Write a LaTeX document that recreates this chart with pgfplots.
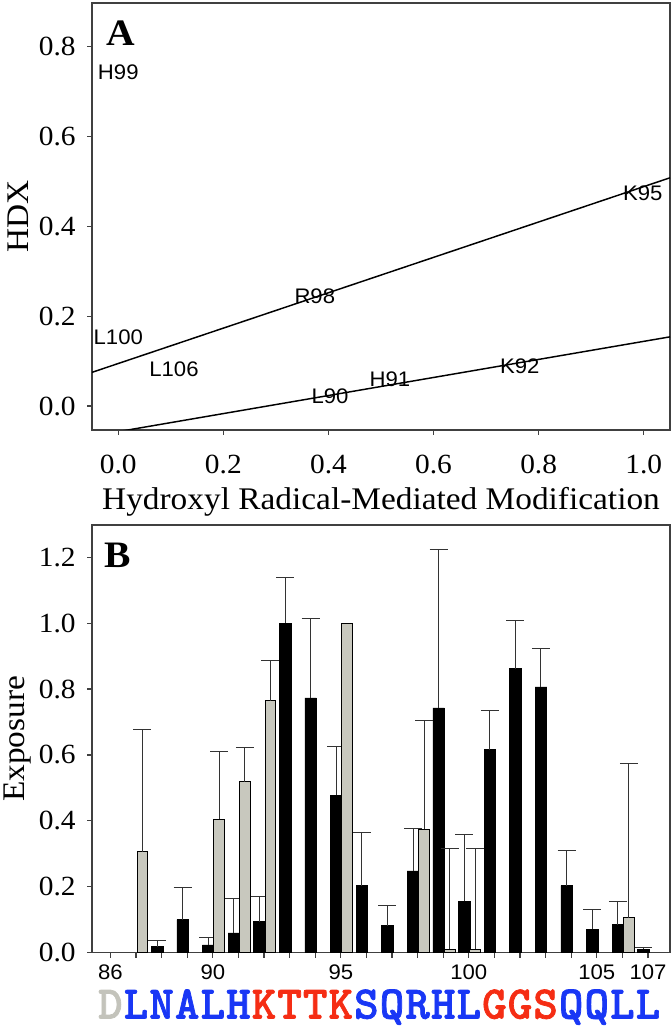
\documentclass[border=0pt]{standalone}
\usepackage{fontspec}
\setmainfont{Liberation Serif}[FakeStretch=1.06]
\newfontfamily\arialf{Liberation Sans}[FakeStretch=1.05]
\newfontfamily\courf{lmmonolt10-bold.otf}[FakeBold=1.5]
\usepackage{pgfplots}
\usepackage{pgfplotstable}
\pgfplotsset{compat=1.18}

\definecolor{barg}{RGB}{200,200,190}
\definecolor{seqgray}{RGB}{195,195,187}
\definecolor{seqblue}{RGB}{25,55,245}
\definecolor{seqred}{RGB}{245,45,20}

\newcommand\tickfont{\rmfamily\fontsize{20.8}{24}\selectfont}
\newcommand\labfont{\rmfamily\fontsize{23.6}{26}\selectfont}
\newcommand\sansfont{\arialf\fontsize{15.8}{18}\selectfont}
\newcommand\seqfont{\courf\fontsize{35}{36}\selectfont}

\pgfplotstableread{
x y label
0.000 0.743 H99
0.000 0.153 L100
0.106 0.0815 L106
0.374 0.245 R98
0.998 0.474 K95
0.403 0.021 L90
0.517 0.060 H91
0.764 0.0896 K92
}\labeltab

\pgfplotstableread{
res val err
88 0.018 0.018
89 0.100 0.096
90 0.023 0.024
91 0.060 0.103
92 0.094 0.076
93 1.000 0.138
94 0.773 0.241
95 0.477 0.150
96 0.203 0.160
97 0.082 0.061
98 0.248 0.129
99 0.743 0.482
100 0.155 0.203
101 0.616 0.120
102 0.862 0.145
103 0.807 0.117
104 0.203 0.106
105 0.070 0.062
106 0.085 0.071
107 0.010 0.006
}\blacktab

\pgfplotstableread{
res val err
87 0.306 0.371
90 0.404 0.206
91 0.519 0.105
92 0.765 0.121
98 0.374 0.330
99 0.010 0.306
100 0.010 0.306
106 0.106 0.468
}\graytab

\pgfplotstableread{
res val
95 1.000
}\graytabb

\pgfplotsset{
  common/.style={
    scale only axis, anchor=south west, width=433.5pt,
    axis line style={draw=black!75, line width=0.9pt},
    tick style={draw=black!75, line width=0.9pt},
    tick align=outside, major tick length=3.75pt, tick pos=left,
    /pgf/number format/assume math mode=true,
    tick label style={font=\tickfont},
    yticklabel style={/pgf/number format/fixed, /pgf/number format/fixed zerofill, /pgf/number format/precision=1, xshift=-5pt},
    every axis y label/.style={at={(axis description cs:-0.128,0.5)}, rotate=90, anchor=center, inner sep=0pt, font=\labfont},
  }
}

\begin{document}
\begin{tikzpicture}
\path[use as bounding box] (0,0) rectangle (503.25pt,769.5pt);
\begin{axis}[common,
  at={(69pt,447pt)}, height=320.25pt,
  xmin=-0.05, xmax=1.05, ymin=-0.0533, ymax=0.897,
  xtick={0,0.2,0.4,0.6,0.8,1.0}, ytick={0,0.2,0.4,0.6,0.8},
  xticklabel style={/pgf/number format/fixed, /pgf/number format/fixed zerofill, /pgf/number format/precision=1, yshift=-11.85pt},
  ylabel={HDX},
  xlabel={Hydroxyl Radical-Mediated Modification},
  every axis x label/.style={at={(axis description cs:0.5,0)}, anchor=base, yshift=-60pt, font=\labfont},
]
\addplot[black, line width=1.1pt] coordinates {(-0.05,0.075) (1.05,0.508)};
\addplot[black, line width=1.1pt] coordinates {(-0.05,-0.067) (1.05,0.154)};
\addplot[draw=none, mark=none, nodes near coords, point meta=explicit symbolic,
  every node near coord/.append style={anchor=center, font=\sansfont, inner sep=0pt}]
  table[x=x, y=y, meta=label] {\labeltab};
\node[font=\bfseries\fontsize{28}{28}\selectfont] at (axis description cs:0.050,0.930) {A};
\end{axis}

\begin{axis}[common,
  at={(69pt,55.1pt)}, height=320.6pt,
  xmin=85.28, xmax=107.86, ymin=0, ymax=1.298,
  xtick={86,...,107},
  xticklabels={86,,,,90,,,,,95,,,,,100,,,,,105,,107},
  xticklabel style={font=\sansfont, inner sep=0.5pt, yshift=-5pt},
  ytick={0,0.2,0.4,0.6,0.8,1.0,1.2},
  ylabel={Exposure},
  extra x ticks={86,...,107},
  extra x tick labels={\textcolor{seqgray}{D},\textcolor{seqblue}{L},\textcolor{seqblue}{N},\textcolor{seqblue}{A},\textcolor{seqblue}{L},\textcolor{seqblue}{H},\textcolor{seqred}{K},\textcolor{seqred}{T},\textcolor{seqred}{T},\textcolor{seqred}{K},\textcolor{seqblue}{S},\textcolor{seqblue}{Q},\textcolor{seqblue}{R},\textcolor{seqblue}{H},\textcolor{seqblue}{L},\textcolor{seqred}{G},\textcolor{seqred}{G},\textcolor{seqred}{S},\textcolor{seqblue}{Q},\textcolor{seqblue}{Q},\textcolor{seqblue}{L},\textcolor{seqblue}{L}},
  extra x tick style={major tick length=0pt, xticklabel style={font=\seqfont, anchor=base, inner sep=0pt, yshift=-44.5pt}},
]
\addplot[ybar, bar width=0.45, bar shift=0pt, fill=black, draw=black,
  error bars/.cd, y dir=plus, y explicit,
  error bar style={line width=0.75pt, black!80},
  error mark options={rotate=90, mark size=6.75pt, line width=0.75pt, black!80}]
  table[x expr=\thisrow{res}-0.18, y=val, y error=err] {\blacktab};
\addplot[ybar, bar width=0.42, bar shift=0pt, fill=barg, draw=black, line width=0.6pt,
  error bars/.cd, y dir=plus, y explicit,
  error bar style={line width=0.75pt, black!80},
  error mark options={rotate=90, mark size=6.75pt, line width=0.75pt, black!80}]
  table[x expr=\thisrow{res}+0.25, y=val, y error=err] {\graytab};
\addplot[ybar, bar width=0.42, bar shift=0pt, fill=barg, draw=black, line width=0.6pt]
  table[x expr=\thisrow{res}+0.25, y=val] {\graytabb};
\node[font=\bfseries\fontsize{28}{28}\selectfont] at (axis description cs:0.045,0.930) {B};
\end{axis}
\end{tikzpicture}
\end{document}
